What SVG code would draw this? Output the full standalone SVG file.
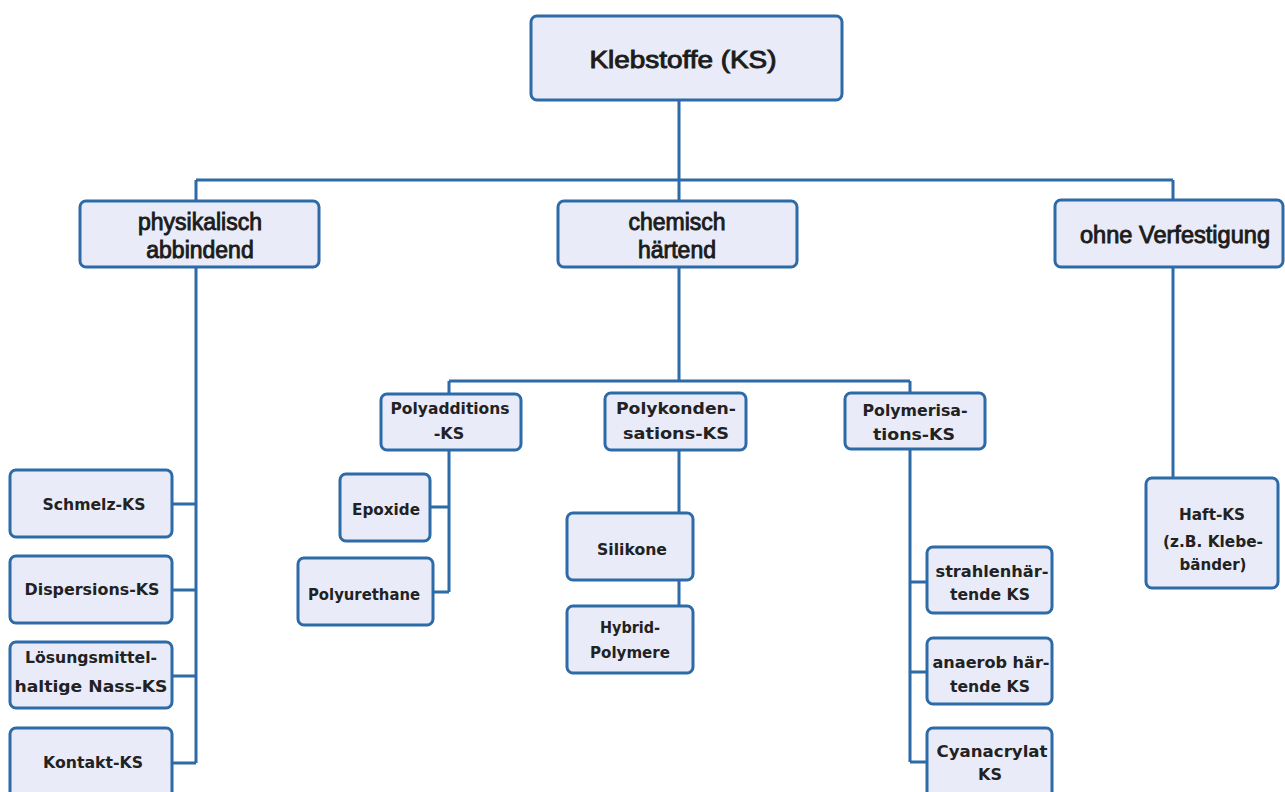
<svg xmlns="http://www.w3.org/2000/svg" width="1285" height="792" viewBox="0 0 1285 792">
<style>
.box{fill:#e9ecf8;stroke:#2c6aa8;stroke-width:3}
.big{font-family:"Liberation Sans",Arial,sans-serif;font-size:23px;fill:#1c1c1c;stroke:#1c1c1c;stroke-width:0.9;text-anchor:middle}
.sm{font-family:"DejaVu Sans","Liberation Sans",sans-serif;font-weight:bold;font-size:16px;fill:#222;text-anchor:middle}
.ln{stroke:#2c6aa8;stroke-width:3;fill:none}
</style>
<rect width="1285" height="792" fill="#ffffff"/>
<g id="connectors">
<path class="ln" d="M679 100V180M196 180H1173M196 180V201M679 180V201M1173 180V200"/>
<path class="ln" d="M196 267V763M172 504H196M172 590H196M172 676H196M172 763H196"/>
<path class="ln" d="M679 267V381M449 381H910M449 381V394M910 381V393"/>
<path class="ln" d="M449 450V592M430 507H449M433 592H449"/>
<path class="ln" d="M679 450V513M679 580V606"/>
<path class="ln" d="M910 449V762M910 582H927M910 672H927M910 762H927"/>
<path class="ln" d="M1173 267V478"/>
</g>
<g id="root"><rect class="box" x="531" y="16" width="311" height="84" rx="6"/><text class="big" x="683" y="68" font-size="27" textLength="187" lengthAdjust="spacingAndGlyphs">Klebstoffe (KS)</text></g>
<g id="physikalisch"><rect class="box" x="80" y="201" width="239" height="66" rx="6"/><text class="big" x="200" y="230" font-size="24">physikalisch</text><text class="big" x="200" y="258" font-size="24">abbindend</text></g>
<g id="chemisch"><rect class="box" x="558" y="201" width="239" height="66" rx="6"/><text class="big" x="677" y="230" font-size="24">chemisch</text><text class="big" x="677" y="258" font-size="24">härtend</text></g>
<g id="ohne"><rect class="box" x="1055" y="200" width="228" height="67" rx="6"/><text class="big" x="1175" y="243" textLength="190" lengthAdjust="spacingAndGlyphs">ohne Verfestigung</text></g>
<g id="schmelz"><rect class="box" x="10" y="470" width="162" height="67" rx="6"/><text class="sm" x="94" y="510" textLength="103" lengthAdjust="spacingAndGlyphs">Schmelz-KS</text></g>
<g id="dispersions"><rect class="box" x="10" y="556" width="162" height="67" rx="6"/><text class="sm" x="92" y="595" textLength="135" lengthAdjust="spacingAndGlyphs">Dispersions-KS</text></g>
<g id="loesungsmittel"><rect class="box" x="10" y="642" width="162" height="66" rx="6"/><text class="sm" x="91" y="663" textLength="132" lengthAdjust="spacingAndGlyphs">Lösungsmittel-</text><text class="sm" x="91" y="692" textLength="153" lengthAdjust="spacingAndGlyphs">haltige Nass-KS</text></g>
<g id="kontakt"><rect class="box" x="10" y="728" width="162" height="72" rx="6"/><text class="sm" x="93" y="768" textLength="100" lengthAdjust="spacingAndGlyphs">Kontakt-KS</text></g>
<g id="polyadditions"><rect class="box" x="381" y="394" width="140" height="56" rx="6"/><text class="sm" x="450" y="414" textLength="119" lengthAdjust="spacingAndGlyphs">Polyadditions</text><text class="sm" x="449" y="439">-KS</text></g>
<g id="polykondensations"><rect class="box" x="605" y="393" width="141" height="57" rx="6"/><text class="sm" x="676" y="414" textLength="120" lengthAdjust="spacingAndGlyphs">Polykonden-</text><text class="sm" x="676" y="439" textLength="106" lengthAdjust="spacingAndGlyphs">sations-KS</text></g>
<g id="polymerisations"><rect class="box" x="845" y="393" width="140" height="56" rx="6"/><text class="sm" x="915" y="416" textLength="105" lengthAdjust="spacingAndGlyphs">Polymerisa-</text><text class="sm" x="914" y="440" textLength="82" lengthAdjust="spacingAndGlyphs">tions-KS</text></g>
<g id="epoxide"><rect class="box" x="340" y="474" width="90" height="67" rx="6"/><text class="sm" x="386" y="515" textLength="68" lengthAdjust="spacingAndGlyphs">Epoxide</text></g>
<g id="polyurethane"><rect class="box" x="298" y="558" width="135" height="67" rx="6"/><text class="sm" x="364" y="600" textLength="112" lengthAdjust="spacingAndGlyphs">Polyurethane</text></g>
<g id="silikone"><rect class="box" x="567" y="513" width="126" height="67" rx="6"/><text class="sm" x="632" y="555" textLength="70" lengthAdjust="spacingAndGlyphs">Silikone</text></g>
<g id="hybrid"><rect class="box" x="567" y="606" width="126" height="67" rx="6"/><text class="sm" x="630" y="633" textLength="60" lengthAdjust="spacingAndGlyphs">Hybrid-</text><text class="sm" x="630" y="658" textLength="80" lengthAdjust="spacingAndGlyphs">Polymere</text></g>
<g id="strahlen"><rect class="box" x="927" y="547" width="125" height="66" rx="6"/><text class="sm" x="992" y="577" textLength="113" lengthAdjust="spacingAndGlyphs">strahlenhär-</text><text class="sm" x="990" y="600" textLength="80" lengthAdjust="spacingAndGlyphs">tende KS</text></g>
<g id="anaerob"><rect class="box" x="927" y="638" width="125" height="66" rx="6"/><text class="sm" x="991" y="668" textLength="117" lengthAdjust="spacingAndGlyphs">anaerob här-</text><text class="sm" x="990" y="692" textLength="80" lengthAdjust="spacingAndGlyphs">tende KS</text></g>
<g id="cyanacrylat"><rect class="box" x="927" y="728" width="125" height="72" rx="6"/><text class="sm" x="992" y="757" textLength="111" lengthAdjust="spacingAndGlyphs">Cyanacrylat</text><text class="sm" x="990" y="780">KS</text></g>
<g id="haft"><rect class="box" x="1146" y="478" width="132" height="110" rx="6"/><text class="sm" x="1212" y="520" textLength="66" lengthAdjust="spacingAndGlyphs">Haft-KS</text><text class="sm" x="1213" y="547" textLength="100" lengthAdjust="spacingAndGlyphs">(z.B. Klebe-</text><text class="sm" x="1213" y="570" textLength="67" lengthAdjust="spacingAndGlyphs">bänder)</text></g>
</svg>
